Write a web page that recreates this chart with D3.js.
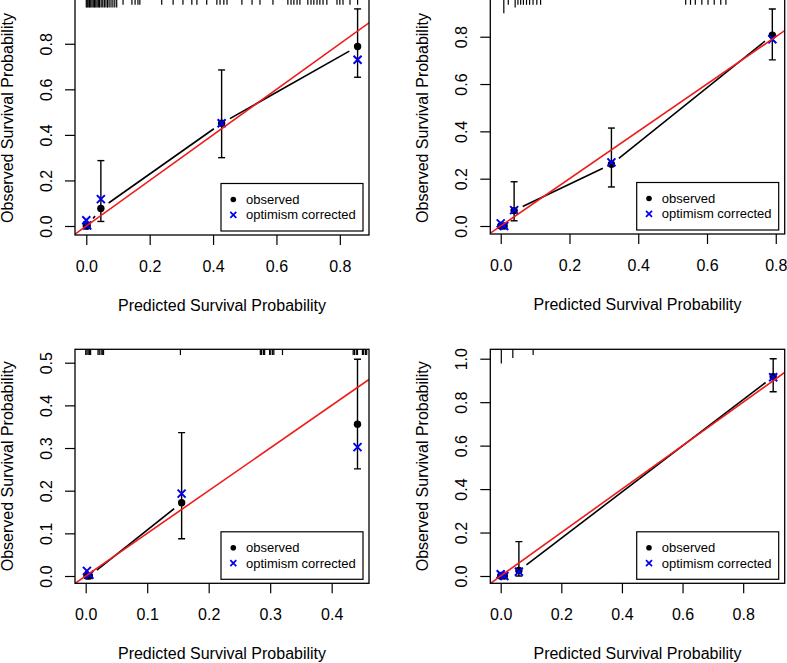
<!DOCTYPE html>
<html>
<head>
<meta charset="utf-8">
<script src="https://cdn.jsdelivr.net/npm/d3@7"></script>
<style>
  html, body { margin: 0; padding: 0; background: #fff; }
  svg { display: block; }
  text { font-family: "Liberation Sans", Arial, Helvetica, sans-serif; fill: #000; }
</style>
</head>
<body>
<svg id="chart" width="787" height="663"></svg>
<script>
// ---------------- DATA ----------------
const legendLabels = ["observed", "optimism corrected"];
const xTitle = "Predicted Survival Probability";
const yTitle = "Observed Survival Probability";

// Panel 1 (top-left)
const p1Pred  = [0.000, 0.003, 0.046, 0.427, 0.856];
const p1Obs   = [0.000, 0.000, 0.077, 0.451, 0.788];
const p1Corr  = [0.025, 0.002, 0.118, 0.451, 0.730];
const p1Lower = [null, null, 0.020, 0.300, 0.653];
const p1Upper = [null, null, 0.287, 0.685, 0.953];
const p1Join  = [true, true, true, true];
const p1XTicks = [0, 0.2, 0.4, 0.6, 0.8];
const p1YTicks = [0, 0.2, 0.4, 0.6, 0.8];
const p1Rug  = [0.000, 0.003, 0.006, 0.010, 0.014, 0.018, 0.022, 0.026, 0.030, 0.034, 0.038,
                0.042, 0.047, 0.052, 0.057, 0.062, 0.067, 0.072, 0.078, 0.084, 0.090, 0.096,
                0.116, 0.144, 0.154, 0.163, 0.169, 0.238, 0.274, 0.305, 0.333, 0.349, 0.380,
                0.412, 0.422, 0.434, 0.444, 0.491, 0.523, 0.548, 0.589, 0.636, 0.646, 0.655,
                0.665, 0.674, 0.699, 0.709, 0.718, 0.728, 0.737, 0.747, 0.759, 0.791, 0.800,
                0.810, 0.832, 0.856];
const p1RugN = p1Rug.map((v, i) => (i < 22 ? 2 : 1));

// Panel 2 (top-right)
const p2Pred  = [0.000, 0.010, 0.039, 0.322, 0.790];
const p2Obs   = [0.000, 0.000, 0.065, 0.261, 0.806];
const p2Corr  = [0.011, 0.000, 0.067, 0.269, 0.789];
const p2Lower = [null, null, 0.022, 0.165, 0.702];
const p2Upper = [null, null, 0.187, 0.414, 0.917];
const p2Join  = [true, true, true, true];
const p2XTicks = [0, 0.2, 0.4, 0.6, 0.8];
const p2YTicks = [0, 0.2, 0.4, 0.6, 0.8];
const p2Rug  = [0.009, 0.022, 0.042, 0.050, 0.058, 0.066, 0.075, 0.084, 0.094, 0.105, 0.116,
                0.538, 0.552, 0.566, 0.585, 0.603, 0.621, 0.640, 0.655];
const p2RugN = [4, 1, 2, 1, 1, 1, 1, 1, 1, 1, 1, 1, 1, 1, 1, 1, 1, 1, 1];

// Panel 3 (bottom-left)
const p3Pred  = [0.002, 0.006, 0.156, 0.442];
const p3Obs   = [0.000, 0.000, 0.172, 0.356];
const p3Corr  = [0.012, 0.003, 0.193, 0.302];
const p3Lower = [null, null, 0.0875, 0.251];
const p3Upper = [null, null, 0.336, 0.508];
const p3Join  = [true, true, false];
const p3XTicks = [0, 0.1, 0.2, 0.3, 0.4];
const p3YTicks = [0, 0.1, 0.2, 0.3, 0.4, 0.5];
const p3Rug  = [0.000, 0.002, 0.004, 0.006, 0.008, 0.020, 0.022, 0.025, 0.027, 0.029, 0.154,
                0.284, 0.286, 0.289, 0.291, 0.299, 0.301, 0.304, 0.306, 0.320,
                0.435, 0.437, 0.440, 0.442, 0.450, 0.452, 0.455, 0.457];
const p3RugN = p3Rug.map(v => 1);

// Panel 4 (bottom-right)
const p4Pred  = [0.000, 0.012, 0.060, 0.899];
const p4Obs   = [0.000, 0.000, 0.025, 0.917];
const p4Corr  = [0.008, 0.000, 0.020, 0.915];
const p4Lower = [null, null, 0.000, 0.848];
const p4Upper = [null, null, 0.158, 1.000];
const p4Join  = [true, true, true];
const p4XTicks = [0, 0.2, 0.4, 0.6, 0.8];
const p4YTicks = [0, 0.2, 0.4, 0.6, 0.8, 1.0];
const p4Rug  = [0.002, 0.040, 0.107];
const p4RugN = [4, 2, 1];

// ---------------- LAYOUT ----------------
const panels = [
  { box: {x0: 75,    x1: 369,   y0: -1,    y1: 235},   xlim: [-0.0356, 0.892], ylim: [-0.0395, 0.9965],
    pred: p1Pred, obs: p1Obs, corr: p1Corr, lo: p1Lower, hi: p1Upper, join: p1Join,
    xt: p1XTicks, yt: p1YTicks, rug: p1Rug, rugN: p1RugN },
  { box: {x0: 490.3, x1: 784.7, y0: -1,    y1: 234},   xlim: [-0.0303, 0.826], ylim: [-0.0338, 0.9594],
    pred: p2Pred, obs: p2Obs, corr: p2Corr, lo: p2Lower, hi: p2Upper, join: p2Join,
    xt: p2XTicks, yt: p2YTicks, rug: p2Rug, rugN: p2RugN },
  { box: {x0: 75,    x1: 369,   y0: 349.3, y1: 583.3}, xlim: [-0.0174, 0.4607], ylim: [-0.0171, 0.5314],
    pred: p3Pred, obs: p3Obs, corr: p3Corr, lo: p3Lower, hi: p3Upper, join: p3Join,
    xt: p3XTicks, yt: p3YTicks, rug: p3Rug, rugN: p3RugN },
  { box: {x0: 490.3, x1: 784.7, y0: 349.3, y1: 583.3}, xlim: [-0.0343, 0.937], ylim: [-0.0336, 1.0433],
    pred: p4Pred, obs: p4Obs, corr: p4Corr, lo: p4Lower, hi: p4Upper, join: p4Join,
    xt: p4XTicks, yt: p4YTicks, rug: p4Rug, rugN: p4RugN }
];

const BLUE = "#0000ee", RED = "#ee1b1b";
const svg = d3.select("#chart");
const fmt = d3.format(".1f");

panels.forEach((p, pi) => {
  const b = p.box;
  const x = d3.scaleLinear().domain(p.xlim).range([b.x0, b.x1]);
  const y = d3.scaleLinear().domain(p.ylim).range([b.y1, b.y0]);
  const g = svg.append("g");

  const clipId = "clip" + pi;
  svg.append("clipPath").attr("id", clipId).append("rect")
    .attr("x", b.x0).attr("y", b.y0).attr("width", b.x1 - b.x0).attr("height", b.y1 - b.y0);

  // axes
  const xa = g.append("g").attr("transform", `translate(0,${b.y1})`)
    .call(d3.axisBottom(x).tickValues(p.xt).tickSize(10).tickSizeOuter(0).tickFormat(fmt));
  xa.select(".domain").remove();
  xa.selectAll(".tick line").attr("stroke", "#000").attr("stroke-width", 1.2);
  xa.selectAll(".tick text").attr("y", 37).attr("dy", 0)
    .style("font-size", "16px").attr("font-family", null).attr("fill", "#000");

  const ya = g.append("g").attr("transform", `translate(${b.x0},0)`)
    .call(d3.axisLeft(y).tickValues(p.yt).tickSize(10).tickSizeOuter(0).tickFormat(fmt));
  ya.select(".domain").remove();
  ya.selectAll(".tick line").attr("stroke", "#000").attr("stroke-width", 1.2);
  ya.selectAll(".tick text").attr("x", 0).attr("y", -23).attr("dy", 0)
    .attr("transform", "rotate(-90)").attr("text-anchor", "middle")
    .style("font-size", "16px").attr("font-family", null).attr("fill", "#000");

  // titles
  g.append("text").attr("x", (b.x0 + b.x1) / 2).attr("y", b.y1 + 76)
    .attr("text-anchor", "middle").style("font-size", "16px").text(xTitle);
  const pb = pi < 2 ? 118 : (b.y0 + b.y1) / 2;
  g.append("text").attr("transform", `translate(${b.x0 - 62.5},${pb}) rotate(-90)`)
    .attr("text-anchor", "middle").style("font-size", "16px").text(yTitle);

  const inner = g.append("g").attr("clip-path", `url(#${clipId})`);

  // rug (scat1d style ticks at top)
  inner.selectAll("line.rug").data(p.rug).join("line").attr("class", "rug")
    .attr("x1", d => x(d)).attr("x2", d => x(d))
    .attr("y1", b.y0).attr("y2", (d, i) => b.y0 + 3 + 2.8 * p.rugN[i])
    .attr("stroke", "#000").attr("stroke-width", 1.2);

  // calibration line (type="b", gaps around points)
  const gap = 9.5;
  for (let i = 0; i < p.pred.length - 1; i++) {
    if (!p.join[i]) continue;
    const ax = x(p.pred[i]), ay = y(p.obs[i]);
    const bx = x(p.pred[i + 1]), by = y(p.obs[i + 1]);
    const d = Math.hypot(bx - ax, by - ay);
    if (d <= 2 * gap) continue;
    const ux = (bx - ax) / d, uy = (by - ay) / d;
    inner.append("line")
      .attr("x1", ax + ux * gap).attr("y1", ay + uy * gap)
      .attr("x2", bx - ux * gap).attr("y2", by - uy * gap)
      .attr("stroke", "#000").attr("stroke-width", 1.6);
  }

  // error bars
  const eb = p.pred.map((v, i) => ({ x: v, lo: p.lo[i], hi: p.hi[i] })).filter(d => d.lo !== null);
  const ebG = inner.append("g").attr("stroke", "#000").attr("stroke-width", 1.4);
  eb.forEach(d => {
    ebG.append("line").attr("x1", x(d.x)).attr("x2", x(d.x)).attr("y1", y(d.lo)).attr("y2", y(d.hi));
    ebG.append("line").attr("x1", x(d.x) - 3.5).attr("x2", x(d.x) + 3.5).attr("y1", y(d.lo)).attr("y2", y(d.lo));
    ebG.append("line").attr("x1", x(d.x) - 3.5).attr("x2", x(d.x) + 3.5).attr("y1", y(d.hi)).attr("y2", y(d.hi));
  });

  // observed points
  inner.selectAll("circle.obs").data(p.pred).join("circle").attr("class", "obs")
    .attr("cx", d => x(d)).attr("cy", (d, i) => y(p.obs[i])).attr("r", 3.7).attr("fill", "#000");

  // optimism corrected crosses
  const s = 4;
  inner.selectAll("path.corr").data(p.pred).join("path").attr("class", "corr")
    .attr("d", (d, i) => {
      const cx = x(d), cy = y(p.corr[i]);
      return `M${cx - s},${cy - s}L${cx + s},${cy + s}M${cx - s},${cy + s}L${cx + s},${cy - s}`;
    })
    .attr("stroke", BLUE).attr("stroke-width", 2).attr("fill", "none");

  // identity line
  inner.append("line")
    .attr("x1", x(p.xlim[0])).attr("y1", y(p.xlim[0]))
    .attr("x2", x(p.xlim[1])).attr("y2", y(p.xlim[1]))
    .attr("stroke", RED).attr("stroke-width", 1.6);

  // box
  g.append("rect").attr("x", b.x0).attr("y", b.y0).attr("width", b.x1 - b.x0).attr("height", b.y1 - b.y0)
    .attr("fill", "none").attr("stroke", "#000").attr("stroke-width", 1.3);

  // legend (bottom right)
  const lw = 142, lh = 47.5;
  const lx = b.x1 - 6 - lw, ly = b.y1 - 4 - lh;
  const lg = g.append("g").attr("transform", `translate(${lx},${ly})`);
  lg.append("rect").attr("width", lw).attr("height", lh).attr("fill", "#fff")
    .attr("stroke", "#000").attr("stroke-width", 1.2);
  const rowY = [16, 31.3];
  lg.append("circle").attr("cx", 12.3).attr("cy", rowY[0]).attr("r", 2.8).attr("fill", "#000");
  const ls = 3;
  lg.append("path")
    .attr("d", `M${12.3 - ls},${rowY[1] - ls}L${12.3 + ls},${rowY[1] + ls}M${12.3 - ls},${rowY[1] + ls}L${12.3 + ls},${rowY[1] - ls}`)
    .attr("stroke", BLUE).attr("stroke-width", 1.7).attr("fill", "none");
  lg.selectAll("text").data(legendLabels).join("text")
    .attr("x", 25).attr("y", (d, i) => rowY[i]).attr("dy", "0.35em")
    .style("font-size", "13px").text(d => d);
});
</script>
</body>
</html>
